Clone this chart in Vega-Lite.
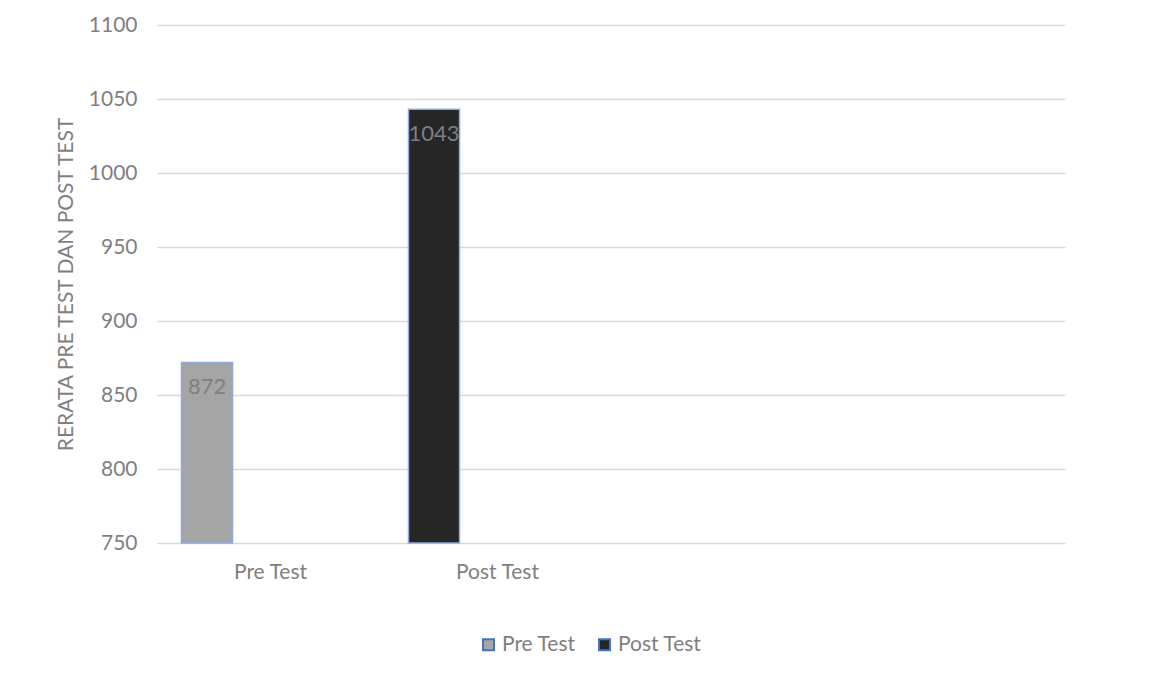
{
  "$schema": "https://vega.github.io/schema/vega-lite/v6.json",
  "autosize": "none",
  "width": 908,
  "height": 518,
  "padding": {"left": 157, "top": 25, "right": 91, "bottom": 136},
  "background": "white",
  "config": {
    "view": {"stroke": null},
    "font": "Lato",
    "axis": {"labelFont": "Lato", "titleFont": "Lato", "labelColor": "#7f7f7f", "titleColor": "#7f7f7f"}
  },
  "data": {
    "values": [
      {"kategori": "Pre Test", "seri": "Pre Test", "rerata": 872},
      {"kategori": "Post Test", "seri": "Post Test", "rerata": 1043}
    ]
  },
  "encoding": {
    "x": {
      "field": "kategori",
      "type": "nominal",
      "scale": {"domain": ["Pre Test", "Post Test", "k3", "k4"], "paddingInner": 0, "paddingOuter": 0},
      "axis": {
        "title": null,
        "labelAngle": 0,
        "labelExpr": "indexof(['Pre Test','Post Test'], datum.value) >= 0 ? datum.value : ''",
        "ticks": false,
        "domain": false,
        "grid": false,
        "labelFontSize": 21,
        "labelPadding": 18
      }
    },
    "xOffset": {
      "datum": "s1",
      "type": "nominal",
      "scale": {"domain": ["s1", "s2"], "paddingInner": 0.598, "paddingOuter": 0.193}
    },
    "y": {
      "field": "rerata",
      "type": "quantitative",
      "scale": {"domain": [750, 1100], "zero": false, "nice": false},
      "axis": {
        "title": "RERATA PRE TEST DAN POST TEST",
        "titleFontSize": 21,
        "titleFontWeight": "normal",
        "titlePadding": 12,
        "values": [750, 800, 850, 900, 950, 1000, 1050, 1100],
        "format": "d",
        "labelFontSize": 21,
        "labelPadding": 20,
        "ticks": false,
        "domain": false,
        "grid": true,
        "gridColor": "#d9d9d9",
        "gridWidth": 1.5
      }
    }
  },
  "layer": [
    {
      "mark": {"type": "bar", "stroke": "#8faadc", "strokeWidth": 1.5},
      "encoding": {
        "y2": {"datum": 750},
        "color": {
          "field": "seri",
          "type": "nominal",
          "scale": {"domain": ["Pre Test", "Post Test"], "range": ["#a5a5a5", "#262626"]},
          "legend": {
            "title": null,
            "orient": "none",
            "direction": "horizontal",
            "legendX": 321,
            "legendY": 609,
            "symbolType": "square",
            "symbolSize": 121,
            "symbolStrokeColor": "#4472c4",
            "symbolStrokeWidth": 2,
            "labelFontSize": 21,
            "labelColor": "#7f7f7f",
            "labelFont": "Lato",
            "labelOffset": 3,
            "columnPadding": 18
          }
        }
      }
    },
    {
      "mark": {"type": "text", "baseline": "top", "dy": 15, "fontSize": 22, "color": "#7f7f7f", "font": "Lato"},
      "encoding": {"text": {"field": "rerata", "type": "quantitative"}}
    }
  ]
}
